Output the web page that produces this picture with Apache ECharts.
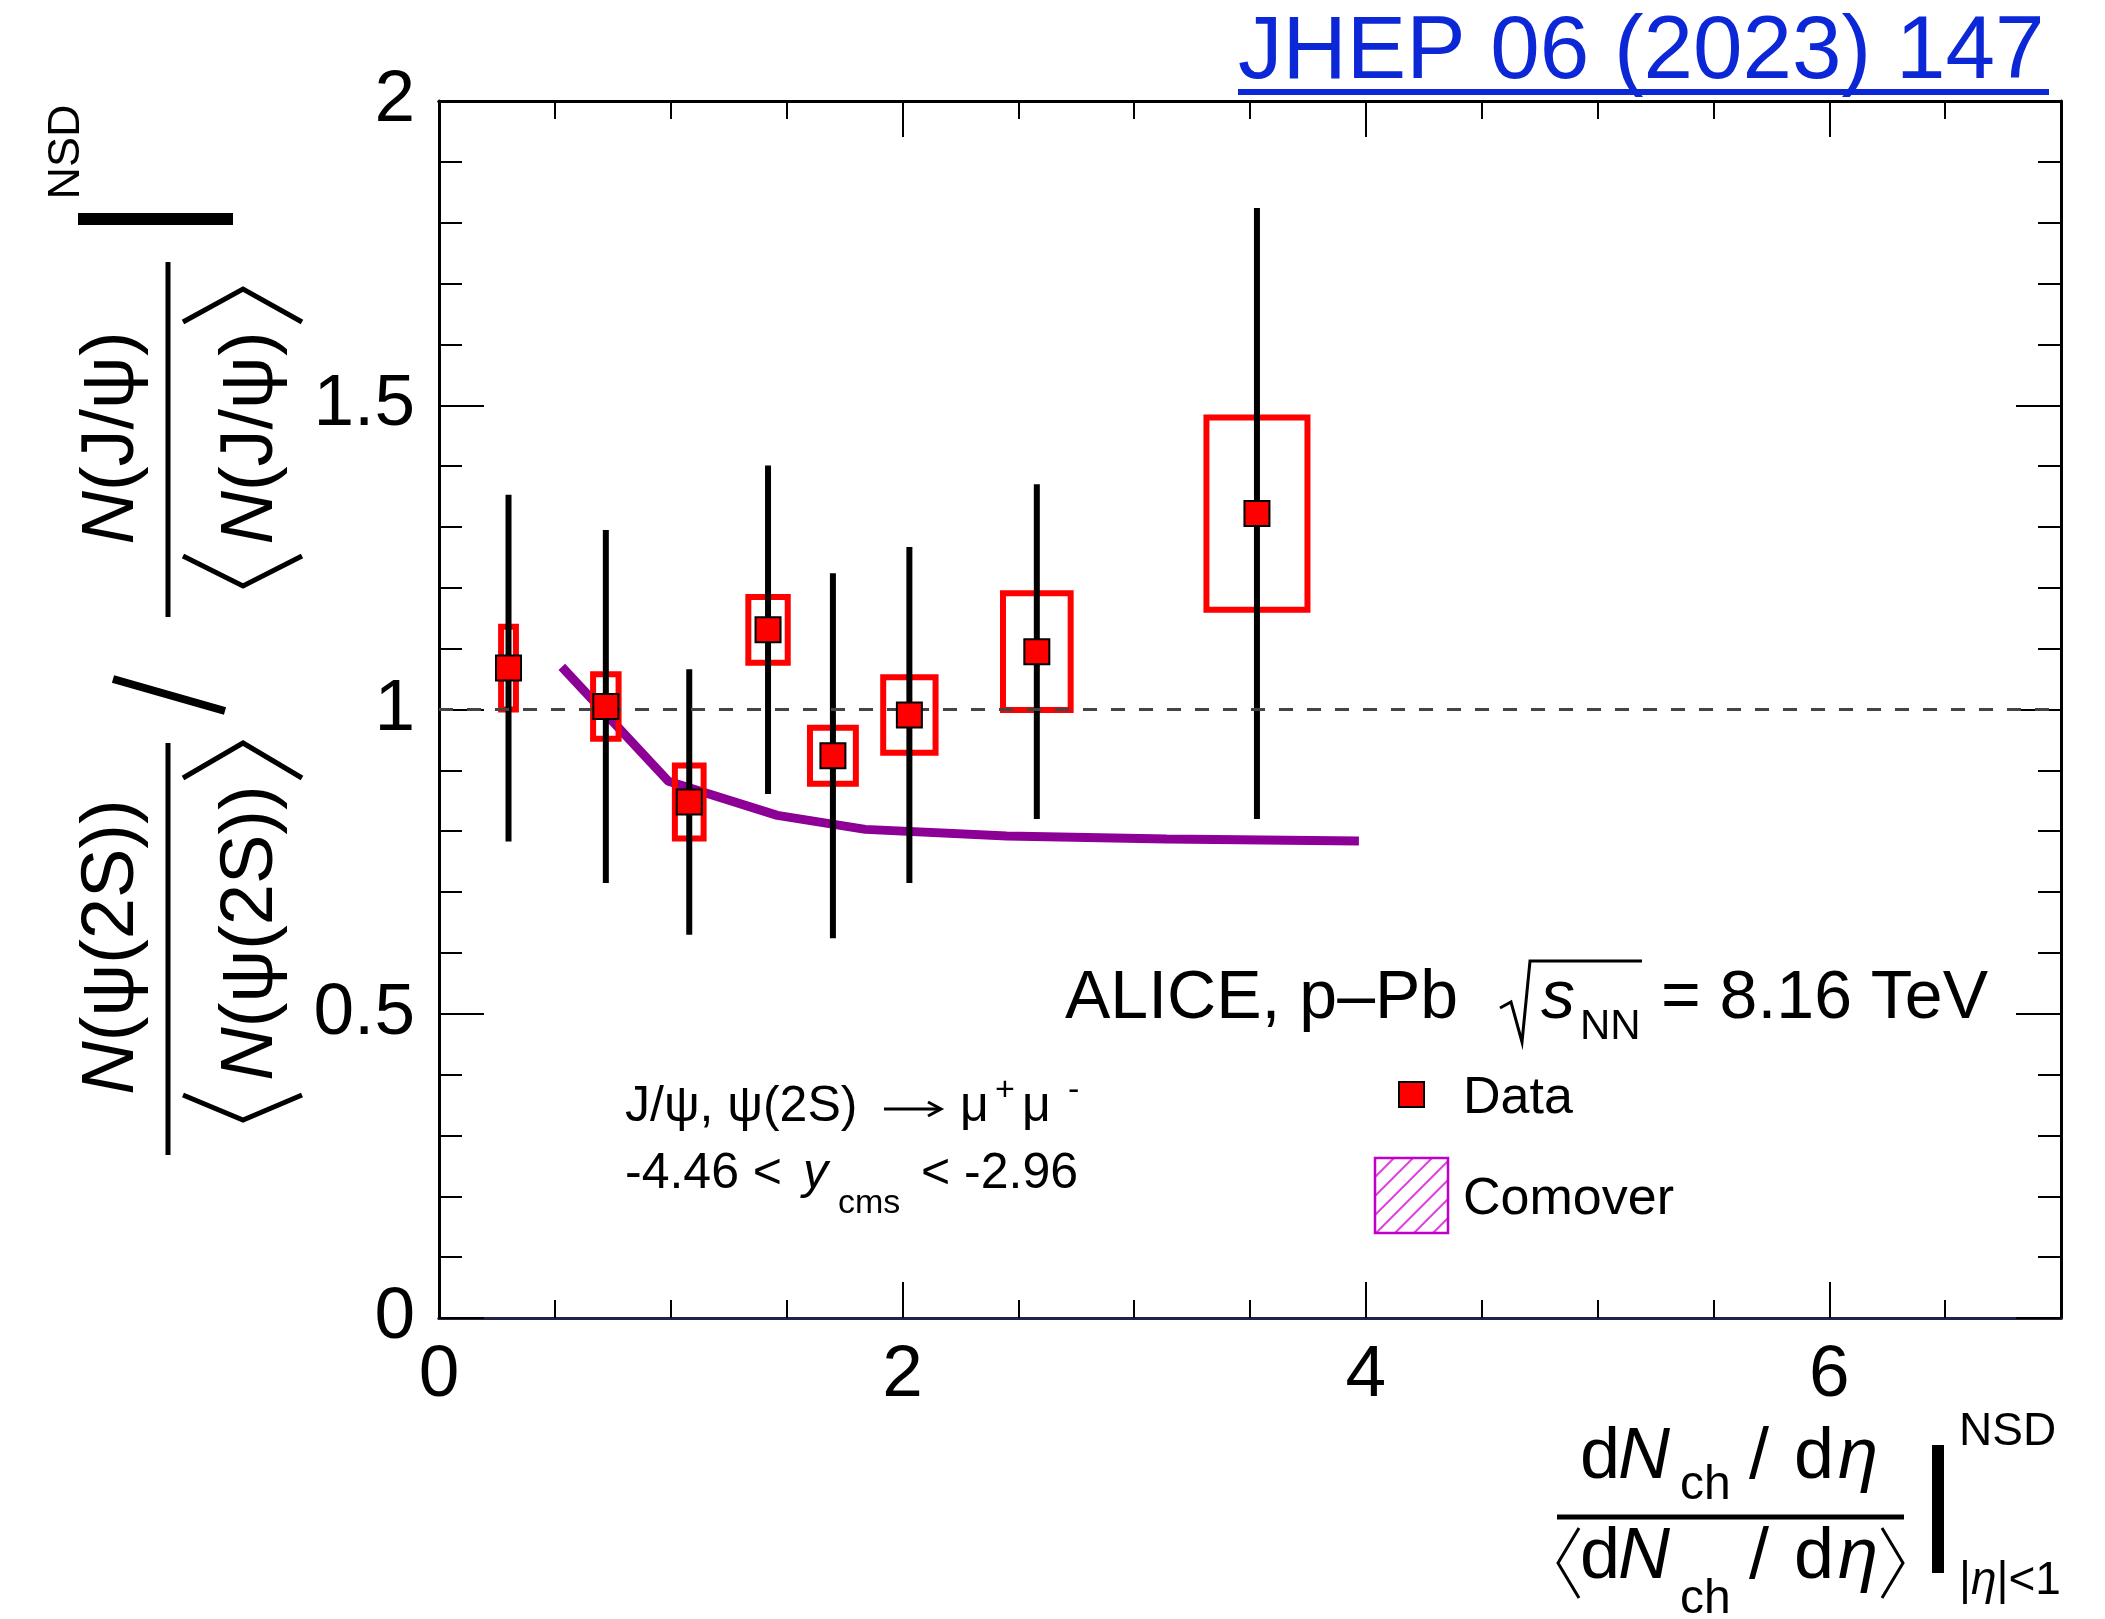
<!DOCTYPE html>
<html>
<head>
<meta charset="utf-8">
<script src="https://cdn.jsdelivr.net/npm/echarts@6/dist/echarts.min.js"></script>
<style>
html, body { margin: 0; padding: 0; background: #fff; }
#main { width: 2105px; height: 1619px; }
</style>
</head>
<body>
<div id="main"></div>
<script>
// ---- data ----
var xValues     = [0.30, 0.72, 1.08, 1.42, 1.70, 2.03, 2.58, 3.53];
var xSysErr     = [0.032, 0.055, 0.062, 0.085, 0.099, 0.113, 0.146, 0.218];
var ratioValues = [1.068, 1.005, 0.848, 1.131, 0.924, 0.991, 1.095, 1.322];
var statErr     = [0.285, 0.290, 0.218, 0.270, 0.300, 0.276, 0.275, 0.502];
var sysErr      = [0.068, 0.053, 0.060, 0.054, 0.046, 0.062, 0.096, 0.158];
var comoverX    = [0.53, 0.99, 1.46, 1.84, 2.45, 3.14, 3.97];
var comoverY    = [1.070, 0.882, 0.826, 0.803, 0.792, 0.787, 0.784];
var xTickLabels = ['0', '2', '4', '6'];
var yTickLabels = ['0', '0.5', '1', '1.5', '2'];

var FONT = '"Liberation Sans", Arial, Helvetica, sans-serif';
var measureCtx = document.createElement('canvas').getContext('2d');
function fontStr(size, italic) {
    return (italic ? 'italic ' : '') + size + 'px ' + FONT;
}
function textWidth(t, size, italic) {
    measureCtx.font = fontStr(size, italic);
    return measureCtx.measureText(t).width;
}

var els = [];
// horizontal run of text pieces: [text, size, italic, baselineShift, fixedX]
function run(x, base, parts, color) {
    var cx = x;
    parts.forEach(function (p) {
        var s = p[1], dy = p[3] || 0;
        if (p[4] !== undefined) cx = p[4];
        els.push({
            type: 'text', x: cx, y: base + dy - 0.35 * s, silent: true,
            style: { text: p[0], font: fontStr(s, p[2]), fill: color || '#000',
                     align: 'left', verticalAlign: 'middle', textAlign: 'left', textVerticalAlign: 'middle' }
        });
        cx += textWidth(p[0], s, p[2]);
    });
}
// vertical run (reads bottom to top), centred on cy, baseline at screen x = bx
function vrun(bx, cy, parts) {
    var total = 0;
    parts.forEach(function (p) { total += textWidth(p[0], p[1], p[2]); });
    var cy0 = cy + total / 2;
    parts.forEach(function (p) {
        var s = p[1], dy = p[3] || 0;
        els.push({
            type: 'text', x: bx + dy - 0.35 * s, y: cy0, rotation: Math.PI / 2, silent: true,
            style: { text: p[0], font: fontStr(s, p[2]), fill: '#000',
                     align: 'left', verticalAlign: 'middle', textAlign: 'left', textVerticalAlign: 'middle' }
        });
        cy0 -= textWidth(p[0], s, p[2]);
    });
}
function seg(x1, y1, x2, y2, w, c) {
    els.push({ type: 'line', silent: true, shape: { x1: x1, y1: y1, x2: x2, y2: y2 },
               style: { stroke: c || '#000', lineWidth: w } });
}
function poly(pts, w, c) {
    els.push({ type: 'polyline', silent: true, shape: { points: pts },
               style: { stroke: c || '#000', lineWidth: w, fill: null } });
}

// journal reference
run(1238, 85, [['JHEP 06 (2023) 147', 89]], '#0b27d6');
seg(1238, 92, 2049, 92, 6, '#0b27d6');

// y axis title (rotated)
vrun(82, 152, [['NSD', 45]]);
seg(78, 219, 233, 219, 12);
vrun(138, 438, [['N', 74, true], ['(J/ψ)', 74]]);
vrun(277, 438, [['N', 74, true], ['(J/ψ)', 74]]);
seg(168, 262, 168, 617, 5);
poly([[183, 556], [243, 586], [302, 556]], 5);
poly([[183, 322], [243, 289], [302, 322]], 5);
seg(113, 679, 225, 711, 8);
vrun(138, 947, [['N', 74, true], ['(ψ(2S))', 74]]);
vrun(277, 933, [['N', 74, true], ['(ψ(2S))', 74]]);
seg(168, 743, 168, 1155, 5);
poly([[183, 1095], [243, 1120], [302, 1095]], 5);
poly([[183, 778], [243, 743], [302, 778]], 5);

// x axis title
run(1580, 1483, [['d', 72], ['N', 72, true, 0, 1618], ['ch', 48, false, 20, 1680],
                 ['/', 72, false, 0, 1749], ['d', 72, false, 0, 1794], ['η', 72, true, 0, 1838]]);
seg(1557, 1517, 1904, 1517, 5);
run(1580, 1583, [['d', 72], ['N', 72, true, 0, 1618], ['ch', 48, false, 34, 1680],
                 ['/', 72, false, 0, 1749], ['d', 72, false, 0, 1794], ['η', 72, true, 0, 1838]]);
poly([[1579, 1528], [1558, 1563], [1579, 1598]], 3);
poly([[1882, 1528], [1903, 1563], [1882, 1598]], 3);
seg(1938, 1445, 1938, 1573, 12);
run(1959, 1448, [['NSD', 46]]);
run(1959, 1597, [['|', 46], ['η', 46, true], ['|<1', 46]]);

// ALICE label
run(1065, 1023, [['ALICE, p–Pb', 68], ['s', 68, true, 0, 1541], ['NN', 42, false, 19, 1580],
                 ['= 8.16 TeV', 68, false, 0, 1661]]);
poly([[1500, 1008], [1511, 1002], [1522, 1042], [1530, 961], [1642, 961]], 3);

// decay / rapidity text
run(625, 1125, [['J/ψ, ψ(2S)', 50], ['μ', 50, false, 0, 960], ['+', 34, false, -22, 995],
                ['μ', 50, false, 0, 1022], ['-', 34, false, -22, 1068]]);
seg(884, 1109, 940, 1109, 3);
poly([[928, 1102], [941, 1109], [928, 1116]], 3);
run(625, 1192, [['-4.46 < ', 50], ['y', 50, true, 0, 803], ['cms', 34, false, 24, 838],
                ['< -2.96', 50, false, 0, 921]]);

// legend
els.push({ type: 'rect', silent: true, shape: { x: 1399, y: 1082, width: 25, height: 25 },
           style: { fill: '#ff0000', stroke: '#000', lineWidth: 2 } });
run(1463, 1117, [['Data', 52]]);
var hx0 = 1375, hy0 = 1158, hx1 = 1448, hy1 = 1233;
for (var c = hx0 + hy0 + 19; c < hx1 + hy1; c += 19) {
    var xa = Math.max(hx0, c - hy1), xb = Math.min(hx1, c - hy0);
    if (xb > xa) seg(xa, c - xa, xb, c - xb, 2, '#e040e0');
}
els.push({ type: 'rect', silent: true, shape: { x: hx0, y: hy0, width: hx1 - hx0, height: hy1 - hy0 },
           style: { fill: null, stroke: '#c000c8', lineWidth: 2.5 } });
run(1463, 1218, [['Comover', 52]]);

function xAxisDef(pos, interval, len, withLabels) {
    return {
        type: 'value', position: pos, min: 0, max: 7, interval: interval,
        axisLine: { show: true, onZero: false,
                    lineStyle: { color: pos === 'bottom' ? '#22234a' : '#000', width: 3 } },
        axisTick: { show: true, inside: true, length: len, lineStyle: { color: '#000', width: 2 } },
        axisLabel: withLabels ? {
            show: true, margin: 21, fontSize: 73, fontFamily: FONT, color: '#000', showMaxLabel: false,
            formatter: function (v) {
                var i = Math.round(v / 2);
                return Math.abs(v - 2 * i) < 1e-6 && xTickLabels[i] !== undefined ? xTickLabels[i] : '';
            }
        } : { show: false },
        splitLine: { show: false }
    };
}
function yAxisDef(pos, withLabels) {
    return {
        type: 'value', position: pos, min: 0, max: 2, interval: 0.5,
        axisLine: { show: true, onZero: false, lineStyle: { color: '#000', width: 3 } },
        axisTick: { show: true, inside: true, length: 45, lineStyle: { color: '#000', width: 2 } },
        minorTick: { show: true, splitNumber: 5, length: 23, lineStyle: { color: '#000', width: 2 } },
        axisLabel: withLabels ? {
            show: true, margin: 24, fontSize: 73, fontFamily: FONT, color: '#000',
            formatter: function (v) {
                var i = Math.round(v * 2);
                return yTickLabels[i] !== undefined ? yTickLabels[i] : '';
            }
        } : { show: false },
        splitLine: { show: false },
        minorSplitLine: { show: false }
    };
}

var dom = document.getElementById('main');
var myChart = echarts.init(dom, null, { renderer: 'canvas' });
var option = {
    animation: false,
    backgroundColor: '#fff',
    grid: { left: 439, right: 44, top: 101, bottom: 301, containLabel: false },
    xAxis: [
        xAxisDef('bottom', 2, 36, true),
        xAxisDef('bottom', 0.5, 18, false),
        xAxisDef('top', 2, 36, false),
        xAxisDef('top', 0.5, 18, false)
    ],
    yAxis: [yAxisDef('left', true), yAxisDef('right', false)],
    graphic: els,
    series: [
        {
            name: 'Comover', type: 'line', z: 2, symbol: 'none', showSymbol: false,
            data: comoverX.map(function (x, i) { return [x, comoverY[i]]; }),
            lineStyle: { color: '#8c0096', width: 9 },
            markLine: {
                silent: true, symbol: 'none', label: { show: false },
                lineStyle: { color: '#444', type: [14, 14], width: 3 },
                data: [{ yAxis: 1 }]
            }
        },
        {
            name: 'syst', type: 'custom', z: 3,
            data: xValues.map(function (x, i) { return [x, ratioValues[i], xSysErr[i], sysErr[i]]; }),
            renderItem: function (params, api) {
                var x = api.value(0), y = api.value(1), ex = api.value(2), ey = api.value(3);
                var p0 = api.coord([x - ex, y + ey]);
                var p1 = api.coord([x + ex, y - ey]);
                return { type: 'rect', shape: { x: p0[0], y: p0[1], width: p1[0] - p0[0], height: p1[1] - p0[1] },
                         style: { fill: null, stroke: '#ff0000', lineWidth: 6 } };
            }
        },
        {
            name: 'stat', type: 'custom', z: 4,
            data: xValues.map(function (x, i) { return [x, ratioValues[i], statErr[i]]; }),
            renderItem: function (params, api) {
                var x = api.value(0), y = api.value(1), e = api.value(2);
                var p0 = api.coord([x, y + e]);
                var p1 = api.coord([x, y - e]);
                return { type: 'line', shape: { x1: p0[0], y1: p0[1], x2: p1[0], y2: p1[1] },
                         style: { stroke: '#000', lineWidth: 6 } };
            }
        },
        {
            name: 'Data', type: 'scatter', z: 5, symbol: 'rect', symbolSize: 25,
            data: xValues.map(function (x, i) { return [x, ratioValues[i]]; }),
            itemStyle: { color: '#ff0000', borderColor: '#000', borderWidth: 2, opacity: 1 }
        }
    ]
};
if (option && typeof option === 'object') {
    myChart.setOption(option, true);
}
</script>
</body>
</html>
